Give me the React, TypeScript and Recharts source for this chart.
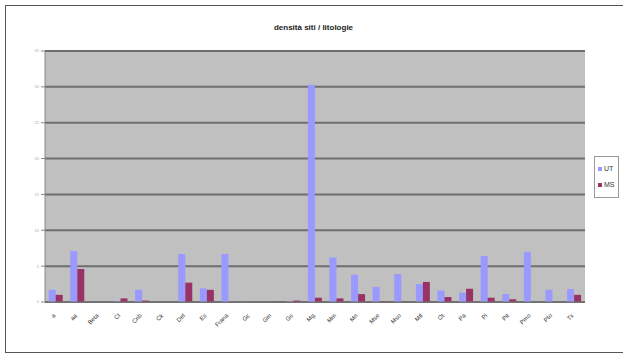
import React from "react";
import { BarChart, Bar, XAxis, YAxis, CartesianGrid } from "recharts";

const categories = [
  "a", "aa", "Beta", "Cl", "Cnb", "Ck", "Del", "Es", "Frana", "Gc", "Gm", "Gs", "Mg",
  "Mm", "Mn", "Mse", "Mso", "Mtl", "Ot", "Pa", "Pi", "Pit", "Pmo", "Pto", "Tx",
];
const utValues = [
  1.7, 7.1, 0, 0.1, 1.7, 0, 6.7, 1.9, 6.7, 0.05, 0, 0.1, 30.3,
  6.2, 3.8, 2.1, 3.9, 2.5, 1.6, 1.3, 6.4, 1.1, 7.0, 1.7, 1.8,
];
const msValues = [
  1.0, 4.6, 0, 0.5, 0.2, 0, 2.7, 1.7, 0, 0.05, 0.05, 0.2, 0.6,
  0.5, 1.1, 0.1, 0, 2.8, 0.7, 1.85, 0.6, 0.4, 0, 0, 1.0,
];
const yTicks = [0, 5, 10, 15, 20, 25, 30, 35];

const data = categories.map((name, i) => ({ name, UT: utValues[i], MS: msValues[i] }));

const COLORS = { UT: "#9999ff", MS: "#993366" };
const FONT = "Arial, Liberation Sans, sans-serif";

function LegendBox() {
  return (
    <div
      style={{
        position: "absolute",
        left: 594,
        top: 156,
        width: 25,
        height: 42,
        boxSizing: "border-box",
        border: "1px solid #9a9a9a",
        background: "#fff",
        padding: "4px 0 0 3px",
        fontFamily: FONT,
        fontSize: 7,
        color: "#333",
        lineHeight: "16px",
      }}
    >
      {(["UT", "MS"] as const).map((k) => (
        <div key={k} style={{ display: "flex", alignItems: "center" }}>
          <span style={{ width: 4, height: 4, background: COLORS[k], marginRight: 2 }} />
          {k}
        </div>
      ))}
    </div>
  );
}

function XTick(props: any) {
  const { x, y, payload } = props;
  return (
    <text
      x={x}
      y={y + 6}
      transform={`rotate(-45 ${x} ${y + 6})`}
      textAnchor="end"
      fontSize={6}
      fill="#333"
      fontFamily={FONT}
    >
      {payload.value}
    </text>
  );
}

export default function App() {
  return (
    <div style={{ position: "fixed", left: 0, top: 0, width: 623, height: 356, background: "#fff" }}>
      <div
        style={{
          position: "absolute",
          left: 5,
          top: 5,
          width: 640,
          height: 346,
          border: "1.5px solid #555",
        }}
      />
      <div
        style={{
          position: "absolute",
          top: 23,
          left: 0,
          width: 623,
          textAlign: "center",
          fontFamily: FONT,
          fontWeight: "bold",
          fontSize: 8,
          color: "#222",
          paddingLeft: 2,
        }}
      >
        densità siti / litologie
      </div>
      <div style={{ position: "absolute", left: 0, top: 0 }}>
        <BarChart
          width={623}
          height={356}
          data={data}
          margin={{ top: 51, right: 38, bottom: 14, left: 15 }}
          barCategoryGap="17%"
          barGap={0}
        >
          <CartesianGrid vertical={false} fill="#c0c0c0" stroke="#6e6e6e" strokeWidth={2} />
          <XAxis
            dataKey="name"
            interval={0}
            height={40}
            tick={<XTick />}
            axisLine={{ stroke: "#777" }}
            tickLine={false}
          />
          <YAxis
            width={30}
            domain={[0, 35]}
            ticks={yTicks}
            interval={0}
            tick={{ fontSize: 4, fill: "#aaa", fontFamily: FONT }}
            axisLine={{ stroke: "#888" }}
            tickLine={{ stroke: "#888" }}
            tickSize={4}
          />
          <Bar dataKey="UT" fill={COLORS.UT} isAnimationActive={false} />
          <Bar dataKey="MS" fill={COLORS.MS} isAnimationActive={false} />
        </BarChart>
      </div>
      <LegendBox />
    </div>
  );
}
